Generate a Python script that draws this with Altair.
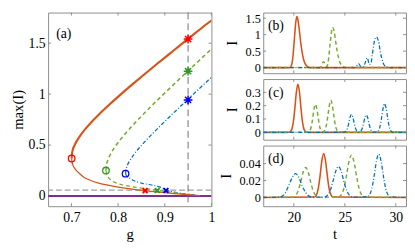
import altair as alt
import pandas as pd

FONT = "Liberation Serif"
ORANGE = "#D95319"
GREEN = "#77AC30"
BLUE = "#0072BD"
PURPLE = "#7E2F8E"
MK_RED = "#FF0000"
MK_GREEN = "#2E9B1F"
MK_BLUE = "#0000FF"
FRAME = "#8C8C8C"

# ---------------- panel (a) data: max(I) vs g ----------------
orange_up_g = [0.7005, 0.7009, 0.7027, 0.7069, 0.7127, 0.720, 0.7378, 0.7589, 0.782, 0.8064, 0.8318, 0.8579, 0.8844, 0.9114, 0.9385, 0.9659, 0.9935, 1.0]
orange_up_y = [0.368, 0.40, 0.45, 0.50, 0.55, 0.60, 0.70, 0.80, 0.90, 1.00, 1.10, 1.20, 1.30, 1.40, 1.50, 1.60, 1.70, 1.722]
orange_lo_g = [0.7005, 0.7015, 0.704, 0.708, 0.715, 0.725, 0.74, 0.76, 0.78, 0.80, 0.83, 0.86, 0.89, 0.92, 0.95, 0.975]
orange_lo_y = [0.368, 0.33, 0.295, 0.265, 0.23, 0.19, 0.155, 0.125, 0.105, 0.088, 0.067, 0.051, 0.037, 0.023, 0.012, 0.003]

green_up_g = [0.774, 0.775, 0.7779, 0.7826, 0.796, 0.8132, 0.8326, 0.8534, 0.8752, 0.8976, 0.9204, 0.9434, 0.9667, 0.9902, 1.0]
green_up_y = [0.25, 0.30, 0.35, 0.40, 0.50, 0.60, 0.70, 0.80, 0.90, 1.00, 1.10, 1.20, 1.30, 1.40, 1.44]
green_lo_g = [0.774, 0.775, 0.778, 0.784, 0.795, 0.81, 0.83, 0.86, 0.884, 0.91, 0.94, 0.965]
green_lo_y = [0.25, 0.22, 0.19, 0.16, 0.13, 0.108, 0.092, 0.072, 0.056, 0.04, 0.022, 0.008]

blue_up_g = [0.816, 0.8166, 0.8198, 0.8254, 0.8327, 0.8508, 0.8713, 0.893, 0.9155, 0.9384, 0.9615, 0.9848, 1.0]
blue_up_y = [0.219, 0.25, 0.30, 0.35, 0.40, 0.50, 0.60, 0.70, 0.80, 0.90, 1.00, 1.10, 1.165]
blue_lo_g = [0.816, 0.818, 0.823, 0.83, 0.84, 0.852, 0.872, 0.885, 0.897, 0.905, 0.92, 0.945, 0.965]
blue_lo_y = [0.219, 0.2, 0.18, 0.16, 0.14, 0.124, 0.108, 0.095, 0.075, 0.057, 0.038, 0.02, 0.008]

zero_g = [0.65, 1.0]
zero_y = [0.0, 0.0]
threshold_y = [0.057]
cut_g = [0.95]

circle_g = [0.7005, 0.774, 0.816]
circle_y = [0.368, 0.25, 0.219]
star_g = [0.95, 0.95, 0.95]
star_y = [1.54, 1.225, 0.943]
cross_g = [0.858, 0.884, 0.9026]
cross_y = [0.053, 0.054, 0.054]
marker_colors = [MK_RED, MK_GREEN, MK_BLUE]

# ---------------- panels (b)-(d): I vs t ----------------
orange_b_t = [17, 19.6, 19.75, 19.9, 20.05, 20.2, 20.3, 20.4, 20.55, 20.7, 20.85, 21.0, 21.2, 21.4, 21.7, 31]
orange_b_I = [0, 0, 0.05, 0.3, 0.85, 1.4, 1.55, 1.45, 1.1, 0.7, 0.4, 0.2, 0.07, 0.02, 0, 0]
green_b_t = [17, 22.5, 22.7, 22.9, 23.1, 23.25, 23.4, 23.55, 23.7, 23.8, 23.95, 24.1, 24.25, 24.45, 24.65, 24.9, 25.2, 31]
green_b_I = [0, 0, 0.05, 0.18, 0.1, 0.03, 0.25, 0.7, 1.1, 1.22, 1.1, 0.8, 0.5, 0.22, 0.08, 0.02, 0, 0]
blue_b_t = [17, 25.9, 26.15, 26.35, 26.55, 26.8, 27.0, 27.2, 27.4, 27.55, 27.7, 27.9, 28.1, 28.3, 28.5, 28.75, 29.0, 29.3, 31]
blue_b_I = [0, 0, 0.05, 0.12, 0.04, 0.02, 0.15, 0.3, 0.1, 0.12, 0.4, 0.8, 0.93, 0.8, 0.45, 0.15, 0.03, 0, 0]

orange_c_t = [17, 19.35, 19.6, 19.8, 19.95, 20.1, 20.25, 20.4, 20.55, 20.7, 20.85, 21.0, 21.2, 21.45, 31]
orange_c_I = [0, 0, 0.003, 0.0225, 0.076, 0.18, 0.302, 0.36, 0.302, 0.18, 0.076, 0.0225, 0.003, 0, 0]
green_c_t = [17, 21.37, 21.57, 21.71, 21.85, 21.98, 22.12, 22.26, 22.4, 22.53, 22.67, 22.85, 23.03, 23.18, 23.33, 23.48, 23.63, 23.78, 23.93, 24.08, 24.23, 24.43, 31]
green_c_I = [0, 0.0014, 0.013, 0.044, 0.105, 0.176, 0.21, 0.176, 0.105, 0.044, 0.013, 0.002, 0.015, 0.05, 0.12, 0.2, 0.24, 0.2, 0.12, 0.05, 0.015, 0.002, 0]
blue_c_t = [17, 24.9, 25.1, 25.24, 25.38, 25.51, 25.65, 25.79, 25.92, 26.06, 26.2, 26.38, 26.55, 26.69, 26.83, 26.96, 27.1, 27.24, 27.37, 27.51, 27.65, 27.85, 28.1, 28.3, 28.45, 28.6, 28.75, 28.9, 29.05, 29.2, 29.35, 29.5, 29.7, 31]
blue_c_I = [0, 0.001, 0.0084, 0.028, 0.0675, 0.113, 0.135, 0.113, 0.0675, 0.028, 0.0084, 0.002, 0.0081, 0.027, 0.065, 0.109, 0.13, 0.109, 0.065, 0.027, 0.0081, 0.001, 0.002, 0.0134, 0.045, 0.1075, 0.18, 0.215, 0.18, 0.1075, 0.045, 0.0134, 0.002, 0]

orange_d_t = [17, 22.03, 22.23, 22.4, 22.58, 22.75, 22.93, 23.1, 23.28, 23.45, 23.63, 23.83, 31]
orange_d_I = [0, 0.0005, 0.0033, 0.0109, 0.026, 0.0437, 0.052, 0.0437, 0.026, 0.0109, 0.0033, 0.0005, 0]
green_d_t = [17, 19.86, 20.16, 20.41, 20.66, 20.91, 21.16, 21.41, 21.66, 21.91, 22.16, 22.46, 24.35, 24.65, 24.9, 25.15, 25.4, 25.65, 25.9, 26.15, 26.4, 26.65, 26.95, 31]
green_d_I = [0, 0.0003, 0.0022, 0.0074, 0.0177, 0.0297, 0.0354, 0.0297, 0.0177, 0.0074, 0.0022, 0.0003, 0.0004, 0.0031, 0.0105, 0.025, 0.042, 0.050, 0.042, 0.025, 0.0105, 0.0031, 0.0004, 0]
blue_d_t = [17, 18.5, 18.9, 19.2, 19.5, 19.85, 20.17, 20.5, 20.8, 21.15, 21.45, 21.8, 22.97, 23.27, 23.55, 23.82, 24.1, 24.37, 24.65, 24.92, 25.2, 25.47, 25.77, 27.18, 27.43, 27.65, 27.88, 28.1, 28.33, 28.55, 28.78, 29.0, 29.23, 29.48, 31]
blue_d_I = [0, 0.0003, 0.0018, 0.006, 0.014, 0.0235, 0.028, 0.0235, 0.014, 0.006, 0.0018, 0.0004, 0.0004, 0.0023, 0.0077, 0.0183, 0.0307, 0.0365, 0.0307, 0.0183, 0.0077, 0.0023, 0.0004, 0.0006, 0.0032, 0.0107, 0.0255, 0.043, 0.051, 0.043, 0.0255, 0.0107, 0.0032, 0.0006, 0]

a_xticks = [0.7, 0.8, 0.9, 1.0]
a_yticks = [0, 0.5, 1, 1.5]
t_ticks = [20, 25, 30]
b_yticks = [0, 0.5, 1, 1.5]
c_yticks = [0, 0.1, 0.2, 0.3]
d_yticks = [0, 0.02, 0.04]

STAR = "M-1,0L1,0M0,-1L0,1M-0.7,-0.7L0.7,0.7M-0.7,0.7L0.7,-0.7"
XMARK = "M-1,-1L1,1M-1,1L1,-1"
TICK = 3


def inward_ticks(xfield, xscale, xaxis, xticks, yfield, yscale, yaxis, yticks, W, H):
    """Small inward tick marks on all four sides of a box (MATLAB style)."""
    xs = pd.DataFrame({xfield: xticks})
    ys = pd.DataFrame({yfield: yticks})
    out = []
    for y0, y1 in [(H, H - TICK), (0, TICK)]:
        out.append(alt.Chart(xs).mark_rule(color=FRAME, strokeWidth=1).encode(
            x=alt.X(f"{xfield}:Q", scale=xscale, axis=xaxis), y=alt.value(y0), y2=alt.value(y1)))
    for x0, x1 in [(0, TICK), (W, W - TICK)]:
        out.append(alt.Chart(ys).mark_rule(color=FRAME, strokeWidth=1).encode(
            y=alt.Y(f"{yfield}:Q", scale=yscale, axis=yaxis), x=alt.value(x0), x2=alt.value(x1)))
    return out


# ---------------- panel (a) ----------------
WA, HA = 167, 198
XA = alt.Scale(domain=[0.65, 1.0], nice=False, zero=False)
YA = alt.Scale(domain=[-0.1, 1.8], nice=False, zero=False)
ax_ax = alt.Axis(values=a_xticks, format="~g", title="g", labelPadding=5, titlePadding=2)
ax_ay = alt.Axis(values=a_yticks, format="~g", title="max(I)", labelPadding=3, titlePadding=3)


def enc_a(ch):
    return ch.encode(x=alt.X("g:Q", scale=XA, axis=ax_ax), y=alt.Y("v:Q", scale=YA, axis=ax_ay))


def a_line(gs, vs, color, width, dash=None):
    df = pd.DataFrame({"g": gs, "v": vs, "i": list(range(len(gs)))})
    kw = dict(color=color, strokeWidth=width, clip=True, interpolate="monotone")
    if dash:
        kw["strokeDash"] = dash
    return enc_a(alt.Chart(df).mark_line(**kw)).encode(order="i:Q")


def a_points(gs, vs, shape, size, width):
    df = pd.DataFrame({"g": gs, "v": vs, "c": marker_colors})
    return enc_a(alt.Chart(df).mark_point(shape=shape, size=size, strokeWidth=width, filled=False, opacity=1)).encode(
        color=alt.Color("c:N", scale=None))


GREEN_DASH = [4, 3]
BLUE_DASH = [4, 2, 1, 2]

thr = alt.Chart(pd.DataFrame({"v": threshold_y})).mark_rule(color="#A0A0A0", strokeWidth=1.2, strokeDash=[6, 3]).encode(
    y=alt.Y("v:Q", scale=YA, axis=ax_ay))
vcut = alt.Chart(pd.DataFrame({"g": cut_g})).mark_rule(color="#707070", strokeWidth=1, strokeDash=[7, 4]).encode(
    x=alt.X("g:Q", scale=XA, axis=ax_ax))
label_a = alt.Chart(pd.DataFrame({"s": ["(a)"]})).mark_text(font=FONT, fontSize=14, color="black").encode(
    x=alt.value(16), y=alt.value(22), text="s:N")

panel_a = alt.layer(
    *inward_ticks("g", XA, ax_ax, a_xticks, "v", YA, ax_ay, a_yticks, WA, HA),
    thr,
    vcut,
    a_line(zero_g, zero_y, PURPLE, 2),
    a_line(blue_lo_g, blue_lo_y, BLUE, 1.2, BLUE_DASH),
    a_line(green_lo_g, green_lo_y, GREEN, 1.3, GREEN_DASH),
    a_line(orange_lo_g, orange_lo_y, ORANGE, 1.3),
    a_line(blue_up_g, blue_up_y, BLUE, 1.3, BLUE_DASH),
    a_line(green_up_g, green_up_y, GREEN, 1.6, GREEN_DASH),
    a_line(orange_up_g, orange_up_y, ORANGE, 2.2),
    a_points(circle_g, circle_y, "circle", 45, 1.3),
    a_points(star_g, star_y, STAR, 80, 1.5),
    a_points(cross_g, cross_y, XMARK, 24, 2),
    label_a,
).properties(width=WA, height=HA)

# ---------------- panels (b)-(d) ----------------
WP, HP = 146, 62
XT = alt.Scale(domain=[17, 31], nice=False, zero=False)


def pulse_panel(series, ydom, yticks, label, show_x):
    YS = alt.Scale(domain=ydom, nice=False, zero=False)
    if show_x:
        xaxis = alt.Axis(values=t_ticks, format="~g", title="t", labelPadding=5, titlePadding=2)
    else:
        xaxis = alt.Axis(values=t_ticks, labels=False, title=None)
    yaxis = alt.Axis(values=yticks, format="~g", title="I", labelPadding=3, titlePadding=6, labelFontSize=12.5)
    layers = inward_ticks("t", XT, xaxis, t_ticks, "v", YS, yaxis, yticks, WP, HP)
    for ts, vs, color, width, dash in series:
        df = pd.DataFrame({"t": ts, "v": vs})
        kw = dict(color=color, strokeWidth=width, clip=True, interpolate="monotone")
        if dash:
            kw["strokeDash"] = dash
        layers.append(alt.Chart(df).mark_line(**kw).encode(
            x=alt.X("t:Q", scale=XT, axis=xaxis), y=alt.Y("v:Q", scale=YS, axis=yaxis)))
    layers.append(alt.Chart(pd.DataFrame({"s": [label]})).mark_text(font=FONT, fontSize=14, color="black").encode(
        x=alt.value(13), y=alt.value(14), text="s:N"))
    return alt.layer(*layers).properties(width=WP, height=HP)


pb = pulse_panel([(orange_b_t, orange_b_I, ORANGE, 1.6, None), (green_b_t, green_b_I, GREEN, 1.5, GREEN_DASH),
                  (blue_b_t, blue_b_I, BLUE, 1.3, BLUE_DASH)], [-0.17, 1.67], b_yticks, "(b)", False)
pc = pulse_panel([(orange_c_t, orange_c_I, ORANGE, 1.6, None), (green_c_t, green_c_I, GREEN, 1.5, GREEN_DASH),
                  (blue_c_t, blue_c_I, BLUE, 1.3, BLUE_DASH)], [-0.055, 0.399], c_yticks, "(c)", False)
pd_ = pulse_panel([(orange_d_t, orange_d_I, ORANGE, 1.6, None), (green_d_t, green_d_I, GREEN, 1.5, GREEN_DASH),
                   (blue_d_t, blue_d_I, BLUE, 1.3, BLUE_DASH)], [-0.0104, 0.0613], d_yticks, "(d)", True)

right = alt.vconcat(pb, pc, pd_, spacing=6, bounds="flush")

chart = alt.hconcat(panel_a, right, spacing=53, bounds="flush").properties(
    padding={"left": 2, "top": 1, "right": 0, "bottom": 0}
).configure_view(stroke=FRAME, strokeWidth=1).configure_axis(
    labelFont=FONT, titleFont=FONT, labelFontSize=14, titleFontSize=15, titleFontWeight="normal",
    grid=False, ticks=False, domain=False, labelColor="black", titleColor="black",
    labelOverlap=False, labelBound=False, labelFlush=False
)

chart.save("out.html", embed_options={"renderer": "svg", "actions": False})
